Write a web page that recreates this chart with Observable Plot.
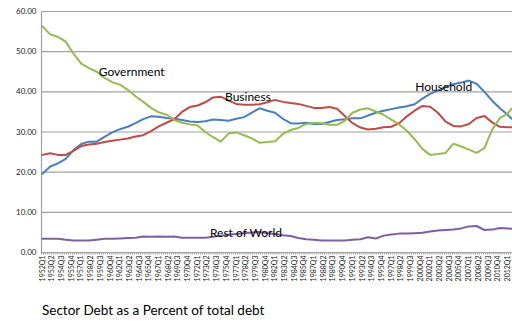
<!DOCTYPE html>
<html>
<head>
<meta charset="utf-8">
<script src="https://cdn.jsdelivr.net/npm/d3@7"></script>
<script src="https://cdn.jsdelivr.net/npm/@observablehq/plot@0.6"></script>
<style>
  html, body { margin: 0; padding: 0; background: #fff; }
  #wrap { position: relative; width: 512px; height: 322px; overflow: hidden; font-family: Lato, "Open Sans", sans-serif; }
  #caption { position: absolute; left: 42px; top: 302px; font-size: 13.5px; color: #000; white-space: nowrap; }
</style>
</head>
<body>
<div id="wrap">
  <div id="chart"></div>
  <div id="caption">Sector Debt as a Percent of total debt</div>
</div>
<script>
// Sample periods (Q1 of each year, plus the last visible quarter)
const periods = ["1952Q1","1953Q1","1954Q1","1955Q1","1956Q1","1957Q1","1958Q1","1959Q1","1960Q1","1961Q1",
  "1962Q1","1963Q1","1964Q1","1965Q1","1966Q1","1967Q1","1968Q1","1969Q1","1970Q1","1971Q1",
  "1972Q1","1973Q1","1974Q1","1975Q1","1976Q1","1977Q1","1978Q1","1979Q1","1980Q1","1981Q1",
  "1982Q1","1983Q1","1984Q1","1985Q1","1986Q1","1987Q1","1988Q1","1989Q1","1990Q1","1991Q1",
  "1992Q1","1993Q1","1994Q1","1995Q1","1996Q1","1997Q1","1998Q1","1999Q1","2000Q1","2001Q1",
  "2002Q1","2003Q1","2004Q1","2005Q1","2006Q1","2007Q1","2008Q1","2009Q1","2010Q1","2011Q1",
  "2012Q1","2012Q3"];

const government = [56.3,54.3,53.7,52.5,49.5,47.0,45.9,45.0,43.5,42.4,
  41.8,40.5,38.9,37.5,36.0,34.9,34.3,33.0,32.3,31.9,
  31.6,30.0,28.7,27.6,29.6,29.9,29.2,28.4,27.3,27.5,
  27.7,29.5,30.5,31.0,32.0,32.3,32.2,31.8,31.8,32.8,
  34.8,35.6,35.9,35.1,34.3,33.1,31.9,30.3,28.2,25.8,
  24.3,24.5,24.8,27.1,26.4,25.6,24.8,26.0,30.6,33.5,
  34.5,35.8];

const business = [24.3,24.7,24.3,24.3,25.3,26.5,26.9,27.1,27.5,27.8,
  28.1,28.4,28.9,29.2,30.2,31.4,32.3,33.2,35.0,36.2,
  36.6,37.4,38.6,38.8,37.8,37.0,36.8,36.8,36.9,37.4,
  38.0,37.5,37.2,37.0,36.5,36.0,36.0,36.2,35.8,34.0,
  32.2,31.1,30.6,30.8,31.2,31.3,32.2,33.9,35.3,36.5,
  36.3,34.8,32.6,31.5,31.4,32.0,33.5,34.0,32.4,31.3,
  31.2,31.2];

const household = [19.6,21.4,22.2,23.3,25.5,27.0,27.6,27.6,28.8,29.9,
  30.7,31.3,32.2,33.2,33.9,33.8,33.5,33.3,33.0,32.6,
  32.5,32.7,33.1,33.0,32.8,33.3,33.7,34.8,35.9,35.3,
  34.8,33.3,32.2,32.1,32.3,32.0,32.0,32.5,33.0,33.2,
  33.4,33.4,34.1,34.8,35.3,35.7,36.1,36.4,36.9,38.3,
  39.5,40.3,41.2,41.9,42.3,42.8,42.0,40.0,37.8,35.9,
  34.3,33.3];

const restOfWorld = [3.4,3.4,3.4,3.2,3.0,3.0,3.0,3.2,3.4,3.4,
  3.5,3.6,3.7,4.0,3.9,4.0,3.9,4.0,3.7,3.7,
  3.7,3.7,3.9,4.2,4.4,4.6,4.8,5.0,5.1,4.8,
  4.6,4.3,4.1,3.6,3.3,3.2,3.0,3.0,3.0,3.0,
  3.2,3.3,3.8,3.5,4.2,4.5,4.7,4.7,4.8,4.9,
  5.2,5.5,5.6,5.7,6.0,6.5,6.6,5.6,5.7,6.1,
  6.0,5.9];

const seriesNames = ["Household", "Business", "Government", "Rest of World"];
const seriesValues = [household, business, government, restOfWorld];
const seriesColors = ["#4A7EBB", "#BE4B48", "#98B954", "#7D60A0"];

// x-axis tick labels (every fifth quarter)
const xTickLabels = ["1952Q1","1953Q2","1954Q3","1955Q4","1957Q1","1958Q2","1959Q3","1960Q4","1962Q1","1963Q2",
  "1964Q3","1965Q4","1967Q1","1968Q2","1969Q3","1970Q4","1972Q1","1973Q2","1974Q3","1975Q4",
  "1977Q1","1978Q2","1979Q3","1980Q4","1982Q1","1983Q2","1984Q3","1985Q4","1987Q1","1988Q2",
  "1989Q3","1990Q4","1992Q1","1993Q2","1994Q3","1995Q4","1997Q1","1998Q2","1999Q3","2000Q4",
  "2002Q1","2003Q2","2004Q3","2005Q4","2007Q1","2008Q2","2009Q3","2010Q4","2012Q1"];
const yTicks = [0, 10, 20, 30, 40, 50, 60];

// Series label annotations: [name, period, value]
const annotations = [
  ["Government", "1963Q3", 45.0],
  ["Business", "1978Q3", 38.6],
  ["Household", "2003Q4", 41.2],
  ["Rest of World", "1978Q2", 4.9]
];

const qIndex = (p) => (+p.slice(0, 4) - 1952) * 4 + (+p.slice(5) - 1);

const rows = [];
seriesNames.forEach((name, s) => {
  periods.forEach((p, i) => rows.push({series: name, x: qIndex(p), y: seriesValues[s][i]}));
});
const lastIdx = qIndex(periods[periods.length - 1]);
const allQuarters = d3.range(0, lastIdx + 1);
const labelIdx = xTickLabels.map(qIndex);
const labelMap = new Map(xTickLabels.map(l => [qIndex(l), l]));

const font = "Lato, 'Open Sans', sans-serif";

const chart = Plot.plot({
  width: 512,
  height: 296,
  marginLeft: 41,
  marginRight: 0,
  marginTop: 11,
  marginBottom: 44,
  style: {fontFamily: font, background: "#fff", overflow: "visible"},
  x: {type: "linear", domain: [-0.5, lastIdx + 0.5]},
  y: {domain: [0, 60]},
  color: {domain: seriesNames, range: seriesColors},
  marks: [
    Plot.ruleY(yTicks, {stroke: "#a0a0a0", strokeWidth: 1.2}),
    Plot.ruleX([-0.5], {stroke: "#a0a0a0", strokeWidth: 1.2}),
    Plot.axisY({ticks: yTicks, tickSize: 0, tickPadding: 5, tickFormat: d => d.toFixed(2), fontSize: 8, fill: "#222", label: null}),
    Plot.axisX({ticks: allQuarters.map(d => d - 0.5), tickSize: 2.5, stroke: "#a0a0a0", tickFormat: () => "", label: null}),
    Plot.axisX({ticks: labelIdx, tickSize: 0, tickPadding: 3, tickRotate: -90, tickFormat: d => labelMap.get(d), fontSize: 7, fill: "#222", label: null}),
    Plot.line(rows, {x: "x", y: "y", z: "series", stroke: "series", strokeWidth: 2}),
    Plot.text(annotations, {x: d => qIndex(d[1]), y: d => d[2], text: d => d[0], fontSize: 12, fill: "#000"})
  ]
});
document.getElementById("chart").appendChild(chart);
</script>
</body>
</html>
